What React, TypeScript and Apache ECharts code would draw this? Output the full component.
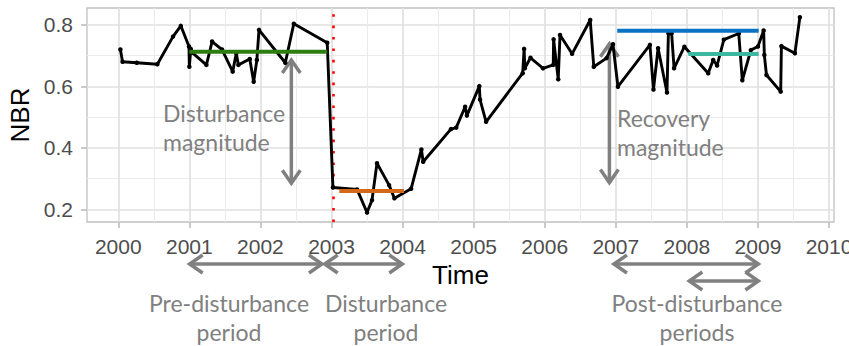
import React, { useEffect, useRef } from 'react';
import * as echarts from 'echarts';

// ---- data ----
const years = [
  2000.03, 2000.06, 2000.26, 2000.55, 2000.77, 2000.88, 2000.995, 2001.0, 2001.02, 2001.04,
  2001.24, 2001.32, 2001.46, 2001.61, 2001.66, 2001.69, 2001.85, 2001.905, 2001.95, 2001.98,
  2002.35, 2002.47, 2002.94, 2003.02, 2003.36, 2003.5, 2003.57, 2003.64, 2003.81, 2003.885,
  2004.12, 2004.265, 2004.29, 2004.68, 2004.755, 2004.88, 2004.905, 2005.08, 2005.09, 2005.175,
  2005.69, 2005.71, 2005.72, 2005.8, 2005.975, 2006.12, 2006.125, 2006.19, 2006.215, 2006.385,
  2006.64, 2006.69, 2006.87, 2006.96, 2007.03, 2007.48, 2007.53, 2007.595, 2007.72, 2007.74,
  2007.785, 2007.82, 2007.965, 2008.3, 2008.37, 2008.425, 2008.52, 2008.73, 2008.78, 2008.9,
  2009.0, 2009.08, 2009.09, 2009.12, 2009.32, 2009.33, 2009.52, 2009.59,
];
const nbr = [
  0.72, 0.68, 0.677, 0.672, 0.762, 0.797, 0.73, 0.664, 0.722, 0.71,
  0.67, 0.746, 0.72, 0.648, 0.708, 0.67, 0.689, 0.615, 0.686, 0.784,
  0.677, 0.804, 0.742, 0.271, 0.265, 0.19, 0.23, 0.35, 0.279, 0.236,
  0.267, 0.395, 0.355, 0.461, 0.466, 0.534, 0.505, 0.601, 0.557, 0.485,
  0.643, 0.722, 0.659, 0.693, 0.659, 0.67, 0.753, 0.623, 0.767, 0.706,
  0.816, 0.664, 0.692, 0.737, 0.599, 0.735, 0.59, 0.724, 0.58, 0.773,
  0.773, 0.659, 0.729, 0.643, 0.686, 0.668, 0.752, 0.772, 0.62, 0.718,
  0.73, 0.782, 0.702, 0.637, 0.583, 0.731, 0.708, 0.825,
];

const preDisturbanceLevel = [[2001.0, 0.713], [2002.94, 0.713]];
const disturbanceLevel = [[2003.11, 0.26], [2004.02, 0.26]];
const recoveryLevel = [[2007.02, 0.781], [2009.01, 0.781]];
const postLevel = [[2008.02, 0.705], [2009.01, 0.705]];
const disturbanceYear = 2003.015;

const xTicks = [2000, 2001, 2002, 2003, 2004, 2005, 2006, 2007, 2008, 2009, 2010];
const yTicks = [0.2, 0.4, 0.6, 0.8];
const xRange = [1999.56, 2010.07];
const yRange = [0.159, 0.855];

// magnitude arrows: [year, fromValue, toValue]
const magnitudeArrows = [
  [2002.435, 0.689, 0.282],
  [2006.91, 0.742, 0.284],
];
// period arrows under the axis: [fromYear, toYear, row]
const periodArrows = [
  [2000.99, 2002.88, 0],
  [2002.89, 2004.01, 0],
  [2006.96, 2009.02, 0],
  [2008.02, 2009.02, 1],
];

const GREY = '#808080';
const ANNOT_FONT = 'Lato';

function doubleArrow(x1: number, y1: number, x2: number, y2: number) {
  const dx = x2 - x1, dy = y2 - y1;
  const len = Math.hypot(dx, dy);
  const ux = dx / len, uy = dy / len;
  const px = -uy, py = ux;
  const L = 14, W = 9;
  const style = { stroke: GREY, lineWidth: 3.5, fill: 'none', lineJoin: 'miter' as const };
  return {
    type: 'group',
    silent: true,
    children: [
      { type: 'line', shape: { x1: x1 + ux, y1: y1 + uy, x2: x2 - ux, y2: y2 - uy }, style },
      {
        type: 'polyline',
        shape: { points: [[x2 - ux * L + px * W, y2 - uy * L + py * W], [x2 - ux, y2 - uy], [x2 - ux * L - px * W, y2 - uy * L - py * W]] },
        style,
      },
      {
        type: 'polyline',
        shape: { points: [[x1 + ux * L + px * W, y1 + uy * L + py * W], [x1 + ux, y1 + uy], [x1 + ux * L - px * W, y1 + uy * L - py * W]] },
        style,
      },
    ],
  };
}

function textEl(text: string, x: number, y: number, align: string) {
  return {
    type: 'text',
    x,
    y,
    silent: true,
    style: {
      text,
      fill: GREY,
      fontFamily: ANNOT_FONT,
      fontSize: 23,
      lineHeight: 29,
      align,
      verticalAlign: 'middle',
    },
  };
}

export default function App() {
  const ref = useRef<HTMLDivElement>(null);
  useEffect(() => {
    const chart = echarts.init(ref.current!, null, { renderer: 'svg' });
    const levelSeries = (data: number[][], color: string) => ({
      type: 'line',
      data,
      symbol: 'none',
      z: 4,
      lineStyle: { color, width: 4 },
      silent: true,
    });
    const option: any = {
      animation: false,
      backgroundColor: '#ffffff',
      grid: {
        left: 87, right: 15, top: 8, bottom: 124,
        show: true, borderColor: '#c0c0c0', borderWidth: 1.3,
        outerBoundsMode: 'none',
      },
      xAxis: {
        type: 'value',
        min: xRange[0], max: xRange[1],
        splitNumber: 10, minInterval: 1, maxInterval: 1,
        name: 'Time', nameLocation: 'middle', nameGap: 37,
        nameTextStyle: { color: '#000', fontSize: 26, fontFamily: 'Liberation Sans' },
        axisLine: { show: false },
        axisTick: { show: true, length: 6, customValues: xTicks, lineStyle: { color: '#b8b8b8', width: 1.5 } },
        axisLabel: {
          customValues: xTicks, color: '#4d4d4d', fontSize: 21, fontFamily: 'Liberation Sans', margin: 14,
          formatter: (v: number) => String(Math.round(v)),
        },
        splitLine: { show: true, lineStyle: { color: '#e1e1e1', width: 1.7 } },
        minorTick: { show: false, splitNumber: 2 },
        minorSplitLine: { show: true, lineStyle: { color: '#ebebeb', width: 1.1 } },
      },
      yAxis: {
        type: 'value',
        min: yRange[0], max: yRange[1],
        splitNumber: 3, minInterval: 0.2, maxInterval: 0.2,
        name: 'NBR', nameLocation: 'middle', nameGap: 46,
        nameTextStyle: { color: '#000', fontSize: 26, fontFamily: 'Liberation Sans' },
        axisLine: { show: false },
        axisTick: { show: true, length: 6, customValues: yTicks, lineStyle: { color: '#b8b8b8', width: 1.5 } },
        axisLabel: {
          customValues: yTicks, color: '#4d4d4d', fontSize: 21, fontFamily: 'Liberation Sans', margin: 14,
          formatter: (v: number) => v.toFixed(1),
        },
        splitLine: { show: true, lineStyle: { color: '#e1e1e1', width: 1.7 } },
        minorTick: { show: false, splitNumber: 2 },
        minorSplitLine: { show: true, lineStyle: { color: '#ebebeb', width: 1.1 } },
      },
      series: [
        {
          type: 'line',
          data: years.map((y, i) => [y, nbr[i]]),
          symbol: 'circle',
          symbolSize: 4.5,
          itemStyle: { color: '#000' },
          lineStyle: { color: '#000', width: 2.9 },
          z: 3,
          silent: true,
          markLine: {
            silent: true,
            symbol: ['none', 'none'],
            label: { show: false },
            z: 2,
            lineStyle: { color: '#ff0000', width: 2.6, type: [2.6, 8.8] },
            data: [{ xAxis: disturbanceYear }],
          },
        },
        levelSeries(preDisturbanceLevel, '#2e7d10'),
        levelSeries(disturbanceLevel, '#d2691a'),
        levelSeries(recoveryLevel, '#0a72c2'),
        levelSeries(postLevel, '#3cb8a0'),
      ],
    };
    chart.setOption(option);

    const toPx = (x: number, y: number) => chart.convertToPixel({ gridIndex: 0 }, [x, y]) as number[];
    const rowY = [264, 281];
    const graphics: any[] = [];
    magnitudeArrows.forEach(([x, a, b]) => {
      const p1 = toPx(x, a);
      const p2 = toPx(x, b);
      graphics.push(doubleArrow(p1[0], p1[1], p2[0], p2[1]));
    });
    periodArrows.forEach(([a, b, row]) => {
      const x1 = toPx(a, 0.5)[0];
      const x2 = toPx(b, 0.5)[0];
      graphics.push(doubleArrow(x1, rowY[row], x2, rowY[row]));
    });
    graphics.push(textEl('Disturbance\nmagnitude', 163, 127.5, 'left'));
    graphics.push(textEl('Recovery\nmagnitude', 617, 132.5, 'left'));
    graphics.push(textEl('Pre-disturbance\nperiod', 229, 317.5, 'center'));
    graphics.push(textEl('Disturbance\nperiod', 386, 317.5, 'center'));
    graphics.push(textEl('Post-disturbance\nperiods', 697, 317.5, 'center'));
    chart.setOption({ graphic: graphics });

    return () => chart.dispose();
  }, []);
  return <div ref={ref} style={{ position: 'fixed', left: 0, top: 0, width: 849, height: 346 }} />;
}
